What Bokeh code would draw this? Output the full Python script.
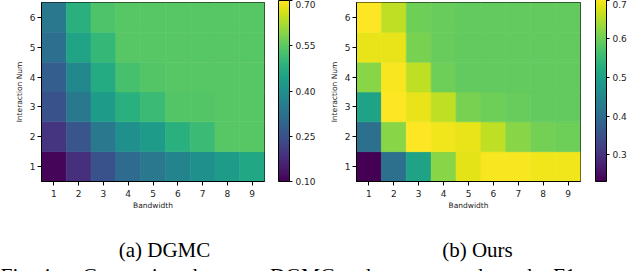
from bokeh.plotting import figure
from bokeh.models import (LinearColorMapper, ColorBar, FixedTicker, ColumnDataSource,
                          Range1d, PrintfTickFormatter)
from bokeh.layouts import column, row
from bokeh.palettes import Viridis256
from bokeh.core.properties import value
from bokeh.embed import file_html
from bokeh.resources import INLINE

bandwidth = [1, 2, 3, 4, 5, 6, 7, 8, 9]
interaction = [1, 2, 3, 4, 5, 6]

# rows: Interaction Num 1..6 ; columns: Bandwidth 1..9
dgmc = [
    [0.11, 0.18, 0.25, 0.31, 0.34, 0.37, 0.40, 0.43, 0.46],
    [0.19, 0.26, 0.34, 0.40, 0.43, 0.48, 0.51, 0.545, 0.545],
    [0.25, 0.34, 0.43, 0.48, 0.51, 0.54, 0.54, 0.545, 0.545],
    [0.28, 0.38, 0.47, 0.525, 0.54, 0.545, 0.545, 0.545, 0.545],
    [0.32, 0.45, 0.50, 0.545, 0.545, 0.545, 0.545, 0.545, 0.545],
    [0.34, 0.48, 0.535, 0.545, 0.545, 0.545, 0.545, 0.545, 0.545],
]
ours = [
    [0.23, 0.405, 0.505, 0.62, 0.685, 0.70, 0.70, 0.695, 0.695],
    [0.405, 0.62, 0.705, 0.695, 0.69, 0.66, 0.62, 0.605, 0.60],
    [0.505, 0.705, 0.69, 0.66, 0.61, 0.60, 0.595, 0.59, 0.59],
    [0.62, 0.70, 0.66, 0.60, 0.59, 0.59, 0.59, 0.59, 0.59],
    [0.69, 0.69, 0.61, 0.595, 0.59, 0.59, 0.59, 0.59, 0.59],
    [0.705, 0.66, 0.60, 0.595, 0.59, 0.59, 0.59, 0.59, 0.59],
]
dgmc_low, dgmc_high = 0.10, 0.70
ours_low, ours_high = 0.23, 0.705
dgmc_cticks = [0.10, 0.25, 0.40, 0.55, 0.70]
ours_cticks = [0.3, 0.4, 0.5, 0.6, 0.7]
sub_captions = ["(a) DGMC", "(b) Ours"]
fig_label = "Fig. 4."
fig_caption = "Comparison between DGMC and our approach on the F1 score"

TXT = "#222222"
H = 212
BOTTOM = 29


def heat(vals, low, high, cticks, fmt, width, bl, br, bt, gap):
    xs, ys, vs = [], [], []
    for j, yv in enumerate(interaction):
        for i, xv in enumerate(bandwidth):
            xs.append(xv)
            ys.append(yv)
            vs.append(vals[j][i])
    src = ColumnDataSource(dict(x=xs, y=ys, v=vs))
    mapper = LinearColorMapper(palette=Viridis256, low=low, high=high)
    p = figure(width=width, height=H, x_range=Range1d(0.5, 9.5), y_range=Range1d(0.5, 6.5),
               output_backend="svg", toolbar_location=None,
               min_border_left=bl, min_border_right=br, min_border_top=bt,
               min_border_bottom=BOTTOM)
    tf = {"field": "v", "transform": mapper}
    p.rect("x", "y", 1, 1, source=src, fill_color=tf, line_color=tf, line_width=0.6)
    p.grid.visible = False
    p.outline_line_color = "black"
    p.outline_line_width = 1
    p.outline_line_alpha = 1
    p.xaxis.ticker = FixedTicker(ticks=bandwidth)
    p.yaxis.ticker = FixedTicker(ticks=interaction)
    p.xaxis.axis_label = "Bandwidth"
    p.yaxis.axis_label = "Interaction Num"
    for ax in (p.xaxis[0], p.yaxis[0]):
        ax.axis_line_color = "black"
        ax.major_tick_line_color = "black"
        ax.major_tick_in = 0
        ax.major_tick_out = 4
        ax.minor_tick_line_color = None
        ax.major_label_text_font = "DejaVu Sans"
        ax.major_label_text_font_size = "9px"
        ax.major_label_text_color = TXT
        ax.axis_label_text_font = "DejaVu Sans"
        ax.axis_label_text_font_size = "7.5px"
        ax.axis_label_text_font_style = "normal"
        ax.axis_label_text_color = TXT
    p.xaxis.major_label_standoff = 4
    p.xaxis.axis_label_standoff = 1
    p.yaxis.major_label_standoff = 2
    p.yaxis.axis_label_standoff = 3
    fw = width - bl - br
    fh = H - bt - BOTTOM
    cb = ColorBar(color_mapper=mapper, ticker=FixedTicker(ticks=cticks),
                  formatter=PrintfTickFormatter(format=fmt), width=11, height=fh,
                  padding=0, margin=0, location=(fw + gap, 0),
                  major_tick_out=3, major_tick_in=0,
                  major_tick_line_color="black", bar_line_color="black",
                  major_label_text_font="DejaVu Sans", major_label_text_font_size="9px",
                  major_label_text_color=TXT, label_standoff=3, background_fill_alpha=0,
                  border_line_color=None)
    p.add_layout(cb, "center")
    return p


pa = heat(dgmc, dgmc_low, dgmc_high, dgmc_cticks, "%.2f", 320, 41, 56, 2, 14)
pb = heat(ours, ours_low, ours_high, ours_cticks, "%.1f", 320, 36, 60, 0, 15)

CH = 271 - H
cap = figure(width=640, height=CH, x_range=Range1d(0, 640), y_range=Range1d(0, CH),
             output_backend="svg", toolbar_location=None,
             min_border_left=0, min_border_right=0, min_border_top=0, min_border_bottom=0)
cap.axis.visible = False
cap.grid.visible = False
cap.outline_line_color = None
csrc = ColumnDataSource(dict(x=[164, 477], y=[22, 22], t=sub_captions))
cap.text("x", "y", text="t", source=csrc, text_font=value("Liberation Serif"),
         text_font_size="21px", text_align="center", text_baseline="alphabetic",
         text_color="black")
fsrc = ColumnDataSource(dict(x=[0, 82], y=[-4.2, -4.2], t=[fig_label, fig_caption]))
cap.text("x", "y", text="t", source=fsrc, text_font=value("Liberation Serif"),
         text_font_size="21.5px", text_align="left", text_baseline="alphabetic",
         text_color="black")

layout = column(row(pa, pb), cap)
open("out.html", "w").write(file_html(layout, INLINE))
